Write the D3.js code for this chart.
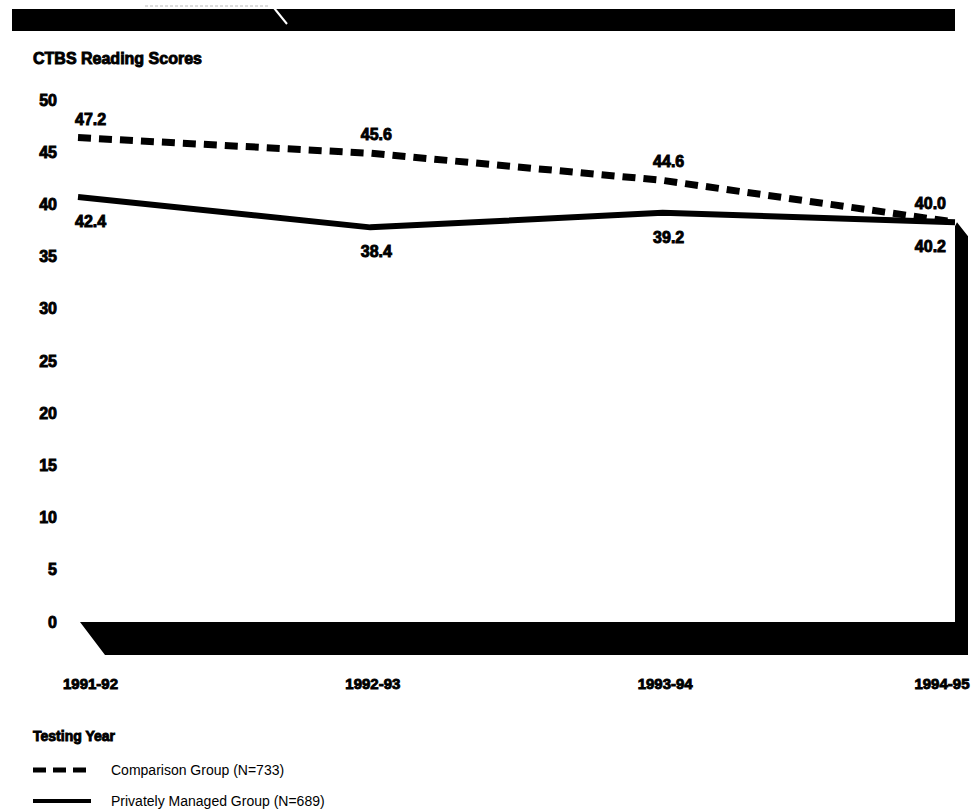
<!DOCTYPE html>
<html>
<head>
<meta charset="utf-8">
<script src="https://cdn.jsdelivr.net/npm/d3@7"></script>
<style>
  body { margin: 0; background: #fff; }
  text { font-family: "Liberation Sans", Arial, sans-serif; fill: #000; }
  .heavy { font-weight: bold; stroke: #000; stroke-width: 0.9px; }
</style>
</head>
<body>
<div id="chart"></div>
<script>
// values
var years = ["1991-92", "1992-93", "1993-94", "1994-95"];
var comparisonScores = [46.4, 44.9, 42.3, 38.3];   // where the dashed line is drawn
var privateScores = [40.7, 37.8, 39.2, 38.3];      // where the solid line is drawn
var comparisonLabels = ["47.2", "45.6", "44.6", "40.0"];
var privateLabels = ["42.4", "38.4", "39.2", "40.2"];
var yTicks = [0, 5, 10, 15, 20, 25, 30, 35, 40, 45, 50];
var legendItems = ["Comparison Group (N=733)", "Privately Managed Group (N=689)"];

var W = 976, H = 812;

var svg = d3.select("#chart")
    .append("svg")
    .attr("width", W)
    .attr("height", H);

// scales
var x = d3.scalePoint().domain(years).range([78, 955]);
var y = d3.scaleLinear().domain([0, 50]).range([622, 100]);

// black header bar with the white scratch and faint hairline
svg.append("line")
    .attr("x1", 145).attr("y1", 6).attr("x2", 268).attr("y2", 6)
    .attr("stroke", "#bbb").attr("stroke-width", 1)
    .attr("stroke-dasharray", "3,2");
svg.append("rect")
    .attr("x", 12).attr("y", 9)
    .attr("width", 943).attr("height", 22)
    .attr("fill", "#000");
svg.append("line")
    .attr("x1", 270).attr("y1", 3).attr("x2", 287).attr("y2", 24)
    .attr("stroke", "#fff").attr("stroke-width", 2);

// title
svg.append("text")
    .attr("class", "heavy")
    .attr("x", 33).attr("y", 64)
    .attr("font-size", 16)
    .text("CTBS Reading Scores");

// 3D floor + right wall
var x0 = x(years[0]), xN = x(years[years.length - 1]);
var wallTop = y(privateScores[privateScores.length - 1]);
svg.append("path")
    .attr("fill", "#000")
    .attr("d", d3.line()([
        [x0 + 2, y(0)], [xN, y(0)], [xN, wallTop + 4], [xN + 2, wallTop],
        [xN + 13, wallTop + 14], [xN + 13, y(0) + 33],
        [x0 + 27, y(0) + 33]
    ]) + "Z");

// y axis labels
var yAxis = svg.append("g")
    .attr("transform", "translate(60,0)")
    .call(d3.axisLeft(y).tickValues(yTicks).tickSize(0).tickPadding(3));
yAxis.select(".domain").remove();
yAxis.selectAll("text")
    .attr("class", "heavy")
    .attr("font-size", 16)
    .attr("font-family", null);

// x axis labels
var xAxis = svg.append("g")
    .attr("transform", "translate(0,678)")
    .call(d3.axisBottom(x).tickSize(0).tickPadding(0));
xAxis.select(".domain").remove();
xAxis.selectAll("text")
    .attr("class", "heavy")
    .attr("font-size", 15)
    .attr("font-family", null)
    .attr("text-anchor", function (d, i) { return i === years.length - 1 ? "end" : "middle"; })
    .attr("dx", function (d, i) { return i === 0 ? 12 : (i === years.length - 1 ? 14 : 2); });

// lines
var line = d3.line()
    .x(function (d, i) { return x(years[i]); })
    .y(function (d) { return y(d); });

svg.append("path")
    .datum(privateScores)
    .attr("fill", "none")
    .attr("stroke", "#000")
    .attr("stroke-width", 6)
    .attr("stroke-linejoin", "round")
    .attr("d", line);

svg.append("path")
    .datum(comparisonScores)
    .attr("fill", "none")
    .attr("stroke", "#000")
    .attr("stroke-width", 7)
    .attr("stroke-dasharray", "13,8")
    .attr("d", line);

// value labels
function anchorFor(i) {
    if (i === 0) return "start";
    if (i === years.length - 1) return "end";
    return "middle";
}
function dxFor(i) {
    if (i === 0) return -3;
    if (i === years.length - 1) return -9;
    return 6;
}

svg.selectAll(".lblComp")
    .data(comparisonLabels)
    .enter().append("text")
    .attr("class", "heavy lblComp")
    .attr("font-size", 16)
    .attr("text-anchor", function (d, i) { return anchorFor(i); })
    .attr("x", function (d, i) { return x(years[i]) + dxFor(i); })
    .attr("y", function (d, i) { return y(comparisonScores[i]) - 13; })
    .text(function (d) { return d; });

svg.selectAll(".lblPriv")
    .data(privateLabels)
    .enter().append("text")
    .attr("class", "heavy lblPriv")
    .attr("font-size", 16)
    .attr("text-anchor", function (d, i) { return anchorFor(i); })
    .attr("x", function (d, i) { return x(years[i]) + dxFor(i); })
    .attr("y", function (d, i) { return y(privateScores[i]) + 30; })
    .text(function (d) { return d; });

// axis title
svg.append("text")
    .attr("class", "heavy")
    .attr("x", 33).attr("y", 741)
    .attr("font-size", 14)
    .text("Testing Year");

// legend
var legend = svg.selectAll(".legend")
    .data(legendItems)
    .enter().append("g")
    .attr("transform", function (d, i) { return "translate(33," + (770 + i * 31) + ")"; });

legend.append("line")
    .attr("x1", 0).attr("x2", 58)
    .attr("y1", 0).attr("y2", 0)
    .attr("stroke", "#000")
    .attr("stroke-width", function (d, i) { return i === 0 ? 5 : 4; })
    .attr("stroke-dasharray", function (d, i) { return i === 0 ? "13,7" : null; });

legend.append("text")
    .attr("x", 78).attr("y", 5)
    .attr("font-size", 14)
    .text(function (d) { return d; });
</script>
</body>
</html>
